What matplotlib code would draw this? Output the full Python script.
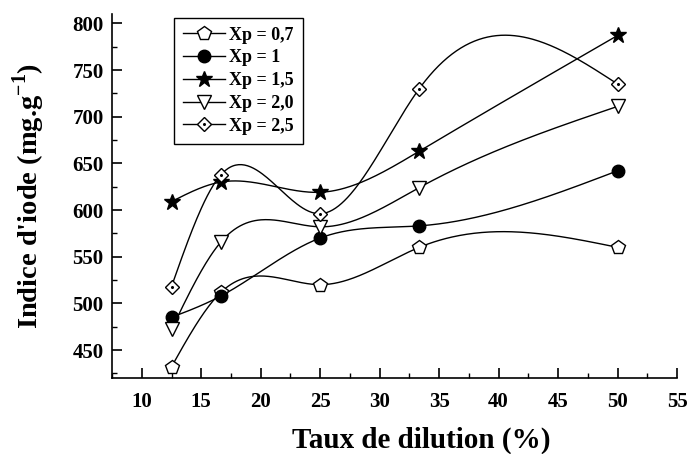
import matplotlib
matplotlib.use("Agg")
import matplotlib.pyplot as plt
import numpy as np
from matplotlib.ticker import MultipleLocator
from matplotlib.legend_handler import HandlerTuple

plt.rcParams['font.family'] = ['Liberation Serif', 'DejaVu Serif']
plt.rcParams['mathtext.fontset'] = 'custom'
plt.rcParams['mathtext.rm'] = 'Liberation Serif:bold'
plt.rcParams['mathtext.bf'] = 'Liberation Serif:bold'

# Dilution rate (%)
taux = [12.5, 16.67, 25, 33.33, 50]

# Iodine number (mg/g) for each Xp
xp_07 = [432, 512, 520, 560, 560]
xp_1 = [485, 508, 570, 583, 642]
xp_15 = [609, 630, 619, 663, 787]
xp_20 = [472, 566, 582, 624, 711]
xp_25 = [518, 638, 596, 730, 735]

labels = ['Xp = 0,7', 'Xp = 1', 'Xp = 1,5', 'Xp = 2,0', 'Xp = 2,5']


def natural_spline(x, y, n=300):
    # natural cubic spline through the points
    x = np.asarray(x, float)
    y = np.asarray(y, float)
    k = len(x)
    h = np.diff(x)
    A = np.zeros((k, k))
    b = np.zeros(k)
    A[0, 0] = A[-1, -1] = 1
    for i in range(1, k - 1):
        A[i, i - 1] = h[i - 1]
        A[i, i] = 2 * (h[i - 1] + h[i])
        A[i, i + 1] = h[i]
        b[i] = 3 * ((y[i + 1] - y[i]) / h[i] - (y[i] - y[i - 1]) / h[i - 1])
    c = np.linalg.solve(A, b)
    xs = np.linspace(x[0], x[-1], n)
    idx = np.clip(np.searchsorted(x, xs) - 1, 0, k - 2)
    dx = xs - x[idx]
    bb = (y[1:] - y[:-1]) / h - h * (2 * c[:-1] + c[1:]) / 3
    d = (c[1:] - c[:-1]) / (3 * h)
    ys = y[idx] + bb[idx] * dx + c[idx] * dx ** 2 + d[idx] * dx ** 3
    return xs, ys


fig = plt.figure(figsize=(6.89, 4.54), dpi=100)
ax = fig.add_axes([0.1626, 0.1674, 0.8200, 0.8017])

series = [xp_07, xp_1, xp_15, xp_20, xp_25]
markers = [
    dict(marker='p', markersize=10, markerfacecolor='white'),
    dict(marker='o', markersize=9, markerfacecolor='black'),
    dict(marker='*', markersize=12, markerfacecolor='black'),
    dict(marker='v', markersize=10, markerfacecolor='white'),
    dict(marker='D', markersize=7.5, markerfacecolor='white'),
]

handles = []
for i, (vals, mk) in enumerate(zip(series, markers)):
    xs, ys = natural_spline(taux, vals)
    ax.plot(xs, ys, color='black', linewidth=1.0, zorder=2)
    ax.plot(taux, vals, linestyle='none', color='black', markeredgecolor='black',
            markeredgewidth=1.0, zorder=3, **mk)
    # legend proxy
    h, = ax.plot([], [], color='black', linewidth=1.0, markeredgecolor='black',
                 markeredgewidth=1.0, **mk)
    if mk['marker'] == 'D':
        # small dot in the middle of the diamonds
        ax.plot(taux, vals, linestyle='none', marker='o', markersize=1.2,
                color='black', zorder=4)
        dot, = ax.plot([], [], linestyle='none', marker='o', markersize=1.2,
                       color='black')
        h = (h, dot)
    handles.append(h)

ax.set_xlim(7.5, 55)
ax.set_ylim(420, 810)
ax.xaxis.set_minor_locator(MultipleLocator(2.5))
ax.yaxis.set_minor_locator(MultipleLocator(25))
ax.set_xticks(np.arange(10, 56, 5))
ax.set_yticks(np.arange(450, 801, 50))

ax.spines['top'].set_visible(False)
ax.spines['right'].set_visible(False)
ax.spines['left'].set_linewidth(1.2)
ax.spines['bottom'].set_linewidth(1.2)
ax.tick_params(which='major', direction='in', length=7, width=1.2,
               labelsize=15)
ax.tick_params(axis='x', which='major', pad=10)
ax.tick_params(axis='y', which='major', pad=6)
ax.tick_params(which='minor', direction='in', length=3.5, width=1.0)
for t in ax.get_xticklabels() + ax.get_yticklabels():
    t.set_fontweight('bold')

ax.set_xlabel('Taux de dilution (%)', fontsize=21, fontweight='bold')
ax.xaxis.set_label_coords(0.548, -0.135)
ax.set_ylabel("Indice d'iode (mg.g$^{\\mathbf{-1}}$)", fontsize=20.5,
              fontweight='bold')
ax.yaxis.set_label_coords(-0.115, 0.5)

leg = ax.legend(handles, labels, loc='upper left', bbox_to_anchor=(0.110, 0.990),
                borderaxespad=0, frameon=True, fancybox=False, edgecolor='black',
                framealpha=1, prop={'weight': 'bold', 'size': 13},
                handlelength=2.3, handletextpad=0.25, labelspacing=0.32,
                borderpad=0.5,
                handler_map={tuple: HandlerTuple(ndivide=1, pad=0)})
leg.get_frame().set_linewidth(1.0)

fig.savefig('out.png', dpi=100)
